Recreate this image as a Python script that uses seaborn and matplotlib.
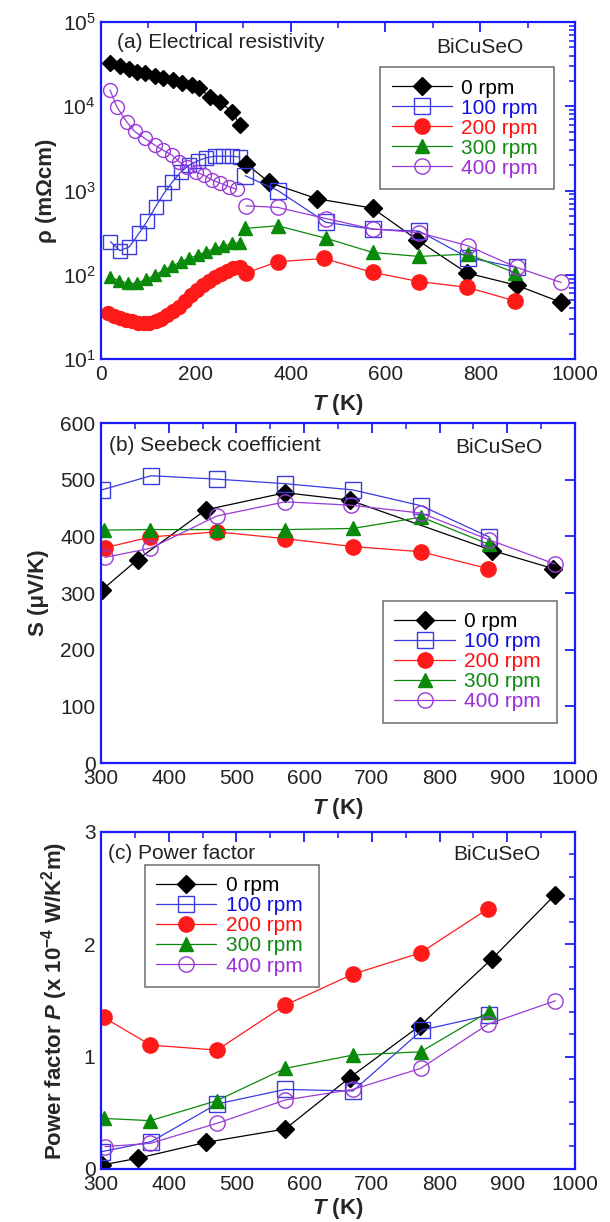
import numpy as np
import matplotlib
matplotlib.use('Agg')
import matplotlib.pyplot as plt
import seaborn as sns
from matplotlib.ticker import MultipleLocator, LogLocator, NullFormatter

# ---- данные (a) сопротивление, низкие и высокие T ----
labels = ['0 rpm', '100 rpm', '200 rpm', '300 rpm', '400 rpm']

T0_low = [19, 39, 58, 75, 93, 114, 131, 151, 170, 191, 207, 230, 251, 276, 293]
R0_low = [32900, 30000, 27400, 25700, 24600, 23000, 21400, 20400, 19000, 17900, 16300, 13000, 11300, 8600, 6000]
T1_low = [20, 40, 60, 80, 97, 115, 133, 150, 168, 186, 204, 222, 240, 258, 276, 293]
R1_low = [247, 193, 215, 310, 430, 640, 930, 1250, 1650, 2000, 2250, 2450, 2550, 2550, 2550, 2500]
T2_low = [15, 27, 40, 52, 65, 77, 90, 102, 115, 127, 140, 152, 165, 178, 190, 203, 215, 228, 240, 253, 266, 279, 293]
R2_low = [34.8, 32.5, 30.5, 29, 28, 27, 26.5, 27, 28.3, 30, 33, 37, 42, 49, 57.5, 66, 75, 84, 93, 103, 111, 119, 125]
T3_low = [19, 38, 57, 75, 94, 114, 132, 150, 169, 186, 204, 222, 240, 258, 276, 293]
R3_low = [95, 85, 79, 79, 88, 99, 114, 127, 143, 157, 171, 188, 206, 219, 236, 240]
T4_low = [19, 33, 54, 71, 92, 113, 130, 150, 165, 182, 200, 217, 235, 252, 270, 286]
R4_low = [15600, 9900, 6560, 5020, 4170, 3470, 3020, 2630, 2190, 1910, 1660, 1520, 1330, 1220, 1110, 1035]

T0_high = [306, 355, 455, 573, 667, 772, 877, 971]
R0_high = [2090, 1245, 800, 617, 260, 105, 75, 47]
T1_high = [304, 373, 474, 573, 671, 774, 877]
R1_high = [1500, 1000, 420, 347, 330, 160, 122]
T2_high = [306, 373, 470, 573, 671, 772, 873]
R2_high = [105, 143, 156, 107, 83, 71, 49]
T3_high = [304, 373, 474, 573, 671, 774, 874]
R3_high = [355, 381, 272, 184, 165, 176, 105]
T4_high = [306, 373, 474, 573, 671, 774, 877, 971]
R4_high = [658, 630, 465, 350, 316, 221, 122, 81]

# ---- (b) Зеебек ----
Tb = [[302, 354, 455, 572, 667, 878, 968],
      [301, 374, 471, 572, 672, 773, 873],
      [306, 373, 471, 572, 672, 772, 872],
      [304, 373, 471, 572, 672, 773, 873],
      [306, 373, 471, 572, 669, 773, 873, 971]]
Sb = [[306, 359, 447, 477, 464, 375, 343],
      [482, 507, 501, 493, 482, 454, 399],
      [380, 399, 408, 396, 382, 373, 343],
      [411, 412, 412, 412, 414, 434, 386],
      [363, 379, 436, 461, 455, 441, 394, 351]]

# ---- (c) фактор мощности ----
Tc = [[302, 354, 455, 572, 667, 771, 878, 970],
      [301, 374, 471, 572, 672, 774, 873],
      [304, 373, 471, 572, 672, 772, 872],
      [304, 373, 471, 572, 672, 772, 873],
      [306, 373, 471, 572, 672, 772, 872, 971]]
Pc = [[0.036, 0.095, 0.237, 0.356, 0.812, 1.275, 1.873, 2.437],
      [0.154, 0.243, 0.578, 0.708, 0.694, 1.236, 1.37],
      [1.349, 1.103, 1.058, 1.458, 1.734, 1.924, 2.318],
      [0.45, 0.43, 0.608, 0.895, 1.014, 1.043, 1.40],
      [0.199, 0.228, 0.406, 0.614, 0.708, 0.895, 1.29, 1.497]]

# стили серий
colors = ['black', '#3a3ae0', '#ff1a1a', '#0a8a0a', '#9a3ad6']
text_colors = ['black', '#1010e0', '#ff1010', '#108a10', '#9a30d6']
markers = ['D', 's', 'o', '^', 'o']
msizes = [9, 11, 11, 10, 11]
filled = [True, False, True, True, False]
spine_c = '#1a1aff'

sns.set_theme(style='white')
plt.rcParams['font.family'] = ['Liberation Sans', 'DejaVu Sans']
plt.rcParams['mathtext.fontset'] = 'custom'
plt.rcParams['mathtext.rm'] = 'Liberation Sans'
plt.rcParams['mathtext.it'] = 'Liberation Sans:italic:bold'
plt.rcParams['mathtext.bf'] = 'Liberation Sans:bold'

fig = plt.figure(figsize=(6.1, 12.22), dpi=100)
axa = fig.add_axes([0.1656, 0.7062, 0.777, 0.2758])
axb = fig.add_axes([0.1656, 0.3756, 0.777, 0.2782])
axc = fig.add_axes([0.1656, 0.0434, 0.777, 0.2758])


def draw(ax, x, y, i, ms=None, label=None):
    sns.lineplot(x=x, y=y, ax=ax, color=colors[i], marker=markers[i],
                 markersize=ms or msizes[i],
                 markerfacecolor=colors[i] if filled[i] else 'none',
                 markeredgecolor=colors[i], markeredgewidth=1.0,
                 linewidth=0.9, estimator=None, sort=False, label=label,
                 legend=False)


def style(ax):
    for s in ax.spines.values():
        s.set_color(spine_c)
        s.set_linewidth(1.6)
    ax.tick_params(which='both', direction='in', top=True, right=True,
                   color=spine_c, labelcolor='#222222', labelsize=15)
    ax.tick_params(which='major', length=7, width=1.3, pad=4)
    ax.tick_params(which='minor', length=4, width=1.1)


def make_legend(ax, handles, loc_box):
    leg = ax.legend(handles=handles, labels=labels, loc='lower left',
                    bbox_to_anchor=loc_box, mode='expand', fontsize=15,
                    handlelength=2.9, handletextpad=0.45, labelspacing=0.05,
                    borderpad=0.55, frameon=True, fancybox=False,
                    borderaxespad=0)
    leg.get_frame().set_edgecolor('#555555')
    leg.get_frame().set_linewidth(1.2)
    for t, c in zip(leg.get_texts(), text_colors):
        t.set_color(c)


# ---- панель (a) ----
lows = [(T0_low, R0_low), (T1_low, R1_low), (T2_low, R2_low), (T3_low, R3_low), (T4_low, R4_low)]
highs = [(T0_high, R0_high), (T1_high, R1_high), (T2_high, R2_high), (T3_high, R3_high), (T4_high, R4_high)]
for i, (x, y) in enumerate(lows):
    draw(axa, x, y, i, ms=msizes[i] - 1)
ha = []
for i, (x, y) in enumerate(highs):
    draw(axa, x, y, i)
    ha.append(axa.lines[-1])
axa.set_yscale('log')
axa.set_xlim(0, 1000)
axa.set_ylim(10, 1e5)
axa.xaxis.set_major_locator(MultipleLocator(200))
axa.xaxis.set_minor_locator(MultipleLocator(100))
axa.yaxis.set_major_locator(LogLocator(base=10, numticks=10))
axa.yaxis.set_minor_locator(LogLocator(base=10, subs=np.arange(2, 10), numticks=20))
axa.yaxis.set_minor_formatter(NullFormatter())
style(axa)
axa.set_xlabel(r'$\mathit{T}$ (K)', fontsize=16, fontweight='bold', labelpad=6)
axa.set_ylabel('ρ (mΩcm)', fontsize=16, fontweight='bold', labelpad=4)
axa.text(0.033, 0.939, '(a) Electrical resistivity', transform=axa.transAxes,
         fontsize=15, color='#222222', va='center', ha='left')
axa.text(0.80, 0.923, 'BiCuSeO', transform=axa.transAxes,
         fontsize=15, color='#222222', va='center', ha='center')
make_legend(axa, ha, (0.589, 0.504, 0.367, 0.36))

# ---- панель (b) ----
hb = []
for i in range(5):
    draw(axb, Tb[i], Sb[i], i)
    hb.append(axb.lines[-1])
axb.set_xlim(300, 1000)
axb.set_ylim(0, 600)
axb.xaxis.set_major_locator(MultipleLocator(100))
axb.xaxis.set_minor_locator(MultipleLocator(50))
axb.yaxis.set_major_locator(MultipleLocator(100))
style(axb)
axb.set_xlabel(r'$\mathit{T}$ (K)', fontsize=16, fontweight='bold', labelpad=6)
axb.set_ylabel('S (μV/K)', fontsize=16, fontweight='bold', labelpad=8)
axb.text(0.016, 0.935, '(b) Seebeck coefficient', transform=axb.transAxes,
         fontsize=15, color='#222222', va='center', ha='left')
axb.text(0.84, 0.927, 'BiCuSeO', transform=axb.transAxes,
         fontsize=15, color='#222222', va='center', ha='center')
make_legend(axb, hb, (0.595, 0.118, 0.367, 0.352))

# ---- панель (c) ----
hc = []
for i in range(5):
    draw(axc, Tc[i], Pc[i], i)
    hc.append(axc.lines[-1])
axc.set_xlim(300, 1000)
axc.set_ylim(0, 3)
axc.xaxis.set_major_locator(MultipleLocator(100))
axc.xaxis.set_minor_locator(MultipleLocator(50))
axc.yaxis.set_major_locator(MultipleLocator(1))
axc.yaxis.set_minor_locator(MultipleLocator(0.2))
style(axc)
axc.set_xlabel(r'$\mathit{T}$ (K)', fontsize=16, fontweight='bold', labelpad=2)
axc.set_ylabel(r'Power factor $\mathit{P}$ (x 10$\mathbf{^{-4}}$ W/K$\mathbf{^{2}}$m)',
               fontsize=16, fontweight='bold', labelpad=10)
axc.text(0.014, 0.937, '(c) Power factor', transform=axc.transAxes,
         fontsize=15, color='#222222', va='center', ha='left')
axc.text(0.835, 0.932, 'BiCuSeO', transform=axc.transAxes,
         fontsize=15, color='#222222', va='center', ha='center')
make_legend(axc, hc, (0.092, 0.54, 0.367, 0.359))

fig.savefig('out.png', dpi=100)
